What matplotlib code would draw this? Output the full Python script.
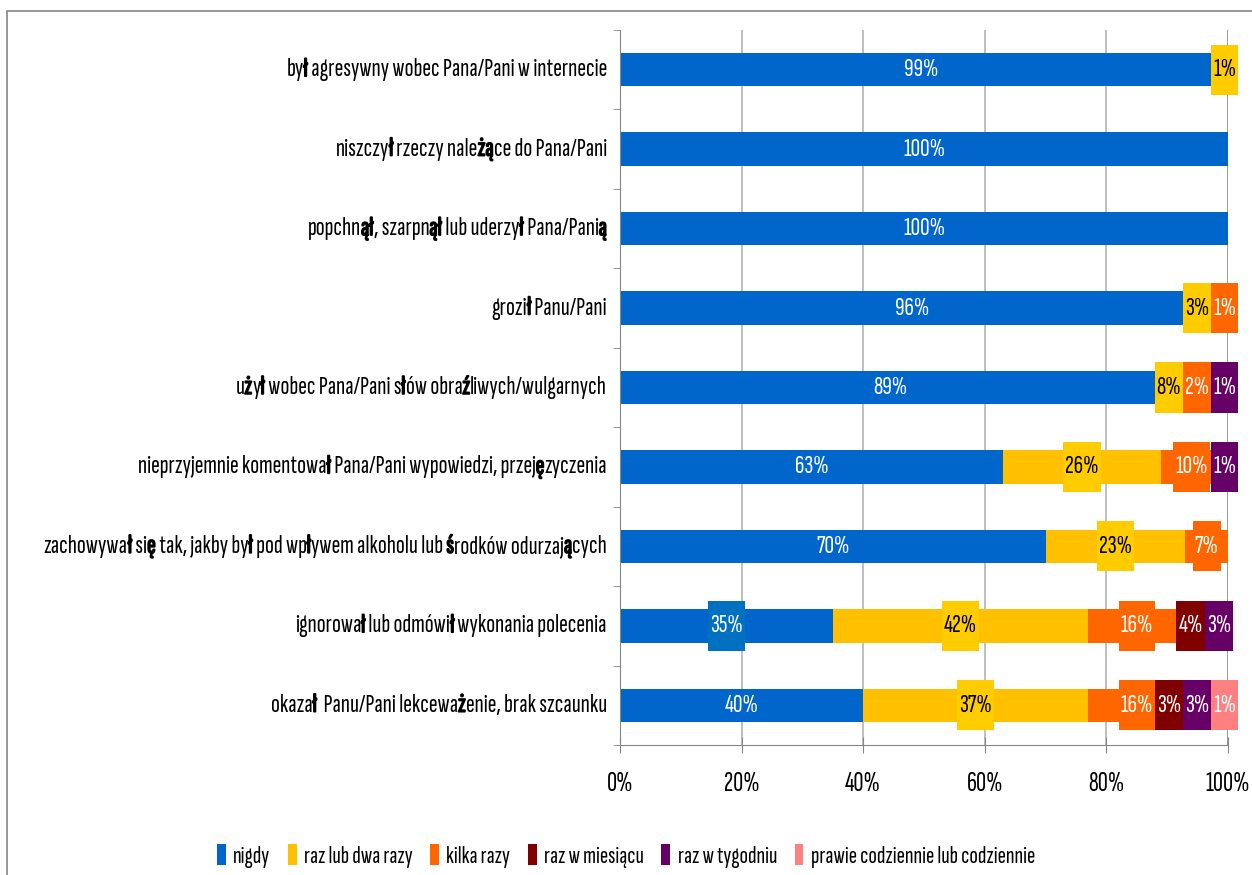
import matplotlib
matplotlib.use('Agg')
import matplotlib.pyplot as plt
import matplotlib.patheffects as pe
import numpy as np
from matplotlib.patches import Rectangle
from matplotlib.font_manager import FontProperties
from matplotlib.transforms import offset_copy

FONT = ['Sofia Sans Extra Condensed', 'DejaVu Sans']
plt.rcParams['font.family'] = FONT

# dane (od góry wykresu)
categories = [
    'był agresywny wobec Pana/Pani w internecie',
    'niszczył rzeczy należące do Pana/Pani',
    'popchnął, szarpnął lub uderzył Pana/Panią',
    'groził Panu/Pani',
    'użył wobec Pana/Pani słów obraźliwych/wulgarnych',
    'nieprzyjemnie komentował Pana/Pani wypowiedzi, przejęzyczenia',
    'zachowywał się tak, jakby był pod wpływem alkoholu lub środków odurzających',
    'ignorował lub odmówił wykonania polecenia',
    'okazał  Panu/Pani lekceważenie, brak szcaunku',
]
series_names = ['nigdy', 'raz lub dwa razy', 'kilka razy', 'raz w miesiącu', 'raz w tygodniu',
                'prawie codziennie lub codziennie']
nigdy = [99, 100, 100, 96, 89, 63, 70, 35, 40]
raz_lub_dwa = [1, 0, 0, 3, 8, 26, 23, 42, 37]
kilka_razy = [0, 0, 0, 1, 2, 10, 7, 16, 16]
raz_w_miesiacu = [0, 0, 0, 0, 0, 0, 0, 4, 3]
raz_w_tygodniu = [0, 0, 0, 0, 1, 1, 0, 3, 3]
codziennie = [0, 0, 0, 0, 0, 0, 0, 0, 1]
xticks = [0, 20, 40, 60, 80, 100]

bar_colors = ['#0066CC', '#FFC000', '#FF6600', '#800000', '#660066', '#FF8080']
box_colors = ['#0070C0', '#FFCC00', '#FF6600', '#800000', '#660066', '#FF8080']
text_colors = ['white', 'black', 'white', 'white', 'white', 'white']

data = np.array([nigdy, raz_lub_dwa, kilka_razy, raz_w_miesiacu, raz_w_tygodniu, codziennie], dtype=float)

W, H = 1252, 875
fig = plt.figure(figsize=(W / 100, H / 100), dpi=100)
ax = fig.add_axes([620 / W, 1 - 745 / H, 608 / W, 715 / H])

y = np.arange(len(categories))
left = np.zeros(len(categories))
for k in range(len(series_names)):
    ax.barh(y, data[k], left=left, height=0.42, color=bar_colors[k], label=series_names[k], zorder=2)
    left += data[k]

ax.set_xlim(0, 100)
ax.set_ylim(len(categories) - 0.5, -0.5)

# osie
for s in ['top', 'right']:
    ax.spines[s].set_visible(False)
for s in ['left', 'bottom']:
    ax.spines[s].set_color('#868686')
ax.set_xticks(xticks)
ax.set_xticklabels([f'{t}%' for t in xticks])
ax.tick_params(axis='x', direction='inout', length=11, color='#868686', pad=14, labelsize=20)
ax.set_yticks([])
ax.set_yticks(np.arange(-0.5, len(categories)), minor=True)
ax.tick_params(axis='y', which='minor', direction='out', length=5, color='#868686')
for t in xticks[1:]:
    ax.axvline(t, color='#888888' if t == 100 else '#B4B4B4', lw=1.2, zorder=1)

# etykiety wartości
texts = []
starts = np.vstack([np.zeros(len(categories)), np.cumsum(data, axis=0)[:-1]])
for i in range(len(categories)):
    row = []
    for k in range(len(series_names)):
        v = data[k, i]
        if v <= 0:
            continue
        t = ax.text(starts[k, i] + v / 2, i, f'{v:.0f}%', ha='center', va='center', fontsize=19,
                    color=text_colors[k], zorder=5)
        row.append((t, k))
    texts.append(row)

fig.canvas.draw()
r = fig.canvas.get_renderer()

# etykiety kategorii - polskie znaki pogrubione jak w oryginale (kawałki tekstu)
BOLD = set('ąćęłńśźżĄĆĘŁŃŚŹŻ')
cat_prop = FontProperties(family=FONT, size=19)
bold_fx = [pe.withStroke(linewidth=1.1, foreground='black')]


def runs(label):
    out = []
    for ch in label:
        b = ch in BOLD
        if out and out[-1][1] == b:
            out[-1][0] += ch
        else:
            out.append([ch, b])
    return out


def advance(s):
    w1 = r.get_text_width_height_descent('x' + s + 'x', cat_prop, ismath=False)[0]
    w0 = r.get_text_width_height_descent('xx', cat_prop, ismath=False)[0]
    return w1 - w0


base = ax.get_yaxis_transform()
for i, cat in enumerate(categories):
    xpos = -13.0
    for txt, b in reversed(runs(cat)):
        xpos -= advance(txt)
        ax.text(0, i, txt, fontproperties=cat_prop, ha='left', va='baseline', clip_on=False,
                path_effects=bold_fx if b else None,
                transform=offset_copy(base, fig=fig, x=xpos, y=-6.5, units='dots'))

# kolorowe ramki pod etykietami wartości, przesunięte żeby się nie nakładały
px_per_unit = ax.transData.transform((1, 0))[0] - ax.transData.transform((0, 0))[0]
for i, row in enumerate(texts):
    cx = [t.get_position()[0] for t, k in row]
    wd = [(t.get_window_extent(r).width + 4) / px_per_unit for t, k in row]
    for j in range(len(row) - 2, -1, -1):
        lim = cx[j + 1] - wd[j + 1] / 2
        if cx[j] + wd[j] / 2 > lim:
            cx[j] = lim - wd[j] / 2
    for (t, k), c, w in zip(row, cx, wd):
        t.set_x(c)
        # w oryginale niebieskie etykiety nie mają ramki, poza jedną
        if k == 0 and i != 7:
            continue
        ax.add_patch(Rectangle((c - w / 2, i - 0.315), w, 0.63, facecolor=box_colors[k],
                               edgecolor='none', zorder=4, clip_on=False))

fig.legend(loc='center', bbox_to_anchor=(0.5, 1 - 856 / H), ncol=6, frameon=False, fontsize=18,
           handlelength=0.35, handleheight=0.9, handletextpad=0.3, columnspacing=0.7)

fig.add_artist(Rectangle((7 / W, -0.05), 1.2, 1 - 11 / H + 0.05, transform=fig.transFigure,
                         fill=False, edgecolor='#868686', lw=1.2))

fig.savefig('out.png', dpi=100)
